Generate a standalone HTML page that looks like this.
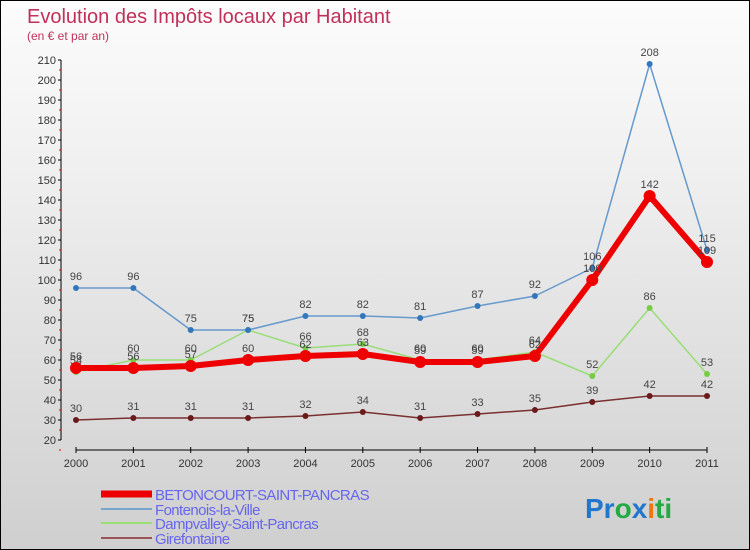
<!DOCTYPE html>
<html><head><meta charset="utf-8"><style>
body{margin:0}
#wrap{width:748px;height:548px;border:1px solid #000;background:linear-gradient(#fcfcfc,#f0f0f0 30%,#cfcfcf);position:relative;overflow:hidden;font-family:"Liberation Sans",sans-serif}
</style></head><body>
<div id="wrap">
<svg id="chart" width="748" height="548" style="position:absolute;left:0;top:0"></svg>
</div>
<script>
const years=["2000","2001","2002","2003","2004","2005","2006","2007","2008","2009","2010","2011"];
const betoncourt=[56,56,57,60,62,63,59,59,62,100,142,109];
const fontenois=[96,96,75,75,82,82,81,87,92,106,208,115];
const dampvalley=[54,60,60,75,66,68,60,60,64,52,86,53];
const girefontaine=[30,31,31,31,32,34,31,33,35,39,42,42];
const yTicks=[20,30,40,50,60,70,80,90,100,110,120,130,140,150,160,170,180,190,200,210];
const NS="http://www.w3.org/2000/svg";
const svg=document.getElementById('chart');
const X=i=>75+i*(706-75)/11;
const Y=v=>439-(v-20)*2;
function el(t,a,p){const e=document.createElementNS(NS,t);for(const k in a)e.setAttribute(k,a[k]);(p||svg).appendChild(e);return e;}
let t=el('text',{x:26,y:22,'font-size':20,fill:'#c0305a'});t.textContent='Evolution des Impôts locaux par Habitant';

t=el('text',{x:26,y:39,'font-size':12,fill:'#c0305a'});t.textContent='(en € et par an)';

let ax=el('line',{x1:60,y1:Y(210),x2:60,y2:Y(20),stroke:'#000'});

yTicks.forEach(v=>{el('line',{x1:57,x2:60,y1:Y(v),y2:Y(v),stroke:'#000'});
 el('line',{x1:58,x2:60,y1:Y(v)+10,y2:Y(v)+10,stroke:'#e00'});
 const l=el('text',{x:55,y:Y(v)+4,'font-size':11,fill:'#333','text-anchor':'end'});l.textContent=v;
 });
ax=el('line',{x1:75,y1:449,x2:706,y2:449,stroke:'#000'});

years.forEach((y,i)=>{el('line',{x1:X(i),x2:X(i),y1:446,y2:452,stroke:'#000'});
 const l=el('text',{x:X(i),y:466,'font-size':11,fill:'#333','text-anchor':'middle'});l.textContent=y;
 });
function series(d,c,w,r,name,dot){
 const g=el('g',{});
 el('polyline',{points:d.map((v,i)=>X(i)+','+Y(v)).join(' '),fill:'none',stroke:c,'stroke-width':w,'stroke-linejoin':'round'},g);
 d.forEach((v,i)=>{const p=el('circle',{cx:X(i),cy:Y(v),r:r,fill:dot},g);
  const l=el('text',{x:X(i),y:Y(v)-8,'font-size':11,fill:'#444','text-anchor':'middle'},g);l.textContent=v;});
}
series(girefontaine,'#7a3030',1.5,3,'girefontaine-series','#6a1a1a');
series(dampvalley,'#99dd77',1.5,3,'dampvalley-series','#77cc44');
series(fontenois,'#6699cc',1.5,3,'fontenois-series','#3377bb');
series(betoncourt,'#ee0000',6,6,'betoncourt-series','#ee0000');
const leg=[['BETONCOURT-SAINT-PANCRAS','#ee0000',7,493],['Fontenois-la-Ville','#77a7cc',2,508],['Dampvalley-Saint-Pancras','#99dd77',2,522],['Girefontaine','#995555',2,537]];
leg.forEach(([n,c,w,y])=>{const g=el('g',{});
 el('line',{x1:100,x2:151,y1:y,y2:y,stroke:c,'stroke-width':w},g);
 const l=el('text',{x:154,y:y+6,'font-size':15,fill:'#6666ee','letter-spacing':'-0.6'},g);l.textContent=n;});
const logo=el('text',{x:584,y:517,'font-size':28,'font-weight':'bold'});

[['Pr','#2277cc'],['o','#22aa44'],['x','#2277cc'],['i','#ee7711'],['ti','#22aa44']].forEach(([s,c])=>{const ts=el('tspan',{fill:c},logo);ts.textContent=s;});
</script>
</body></html>
